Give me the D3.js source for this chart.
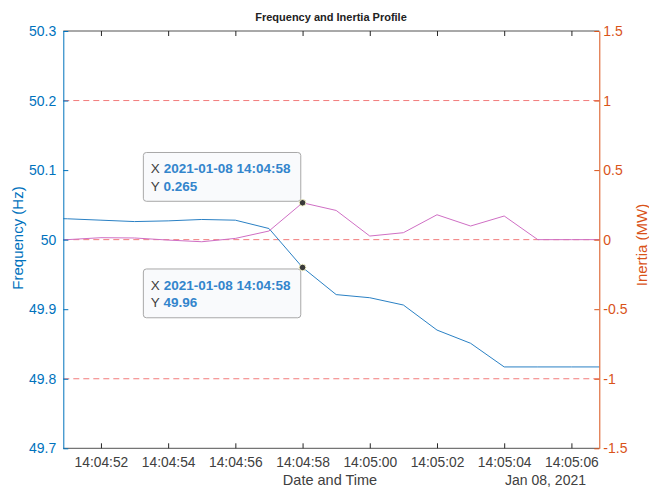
<!DOCTYPE html>
<html><head><meta charset="utf-8">
<script src="https://cdn.jsdelivr.net/npm/d3@7"></script>
<style>body{margin:0;background:#fff}svg{display:block;font-family:"Liberation Sans",Arial,Helvetica,sans-serif}</style>
</head><body><svg id="c" width="649" height="487"></svg>
<script>
const times = ["14:04:50","14:04:51","14:04:52","14:04:53","14:04:54","14:04:55","14:04:56","14:04:57","14:04:58","14:04:59","14:05:00","14:05:01","14:05:02","14:05:03","14:05:04","14:05:05","14:05:06","14:05:07"];
const frequency = [50.031,50.030,50.028,50.026,50.027,50.029,50.028,50.016,49.96,49.921,49.9165,49.906,49.870,49.851,49.817,49.817,49.817,49.817];
const inertia = [0.0,0.0,0.014,0.012,-0.003,-0.015,0.009,0.062,0.265,0.21,0.026,0.05,0.179,0.098,0.17,0.0,0.0,0.0];
const xDomain = ["14:04:50.88","14:05:06.83"];
const xTickLabels = ["14:04:52","14:04:54","14:04:56","14:04:58","14:05:00","14:05:02","14:05:04","14:05:06"];
const leftTicks = [49.7,49.8,49.9,50,50.1,50.2,50.3];
const rightTicks = [-1.5,-1,-0.5,0,0.5,1,1.5];
const refLines = [1,0,-1];
const tips = [
  {time:"14:04:58", label:"2021-01-08 14:04:58", value:"0.265", series:"inertia", side:"above"},
  {time:"14:04:58", label:"2021-01-08 14:04:58", value:"49.96", series:"frequency", side:"below"}
];
const dateStr = "2021-01-08";
const title = "Frequency and Inertia Profile";

const parse = s => new Date(dateStr + "T" + s);
const L = 63.3, R = 599.3, T = 31, B = 448.3;
const x = d3.scaleTime().domain(xDomain.map(parse)).range([L, R]);
const yl = d3.scaleLinear().domain([49.7, 50.3]).range([B, T]);
const yr = d3.scaleLinear().domain([-1.5, 1.5]).range([B, T]);
const blue = "#0072BD", orange = "#D95319";
const svg = d3.select("#c");

svg.append("defs").append("clipPath").attr("id","clip").append("rect")
  .attr("x",L).attr("y",T).attr("width",R-L).attr("height",B-T);

// reference dashed lines
svg.append("g").selectAll("line").data(refLines).join("line")
  .attr("x1",L).attr("x2",R).attr("y1",d=>yr(d)).attr("y2",d=>yr(d))
  .attr("stroke","#f27b7b").attr("stroke-width",1).attr("stroke-dasharray","6,4");

const g = svg.append("g").attr("clip-path","url(#clip)");
g.append("path").datum(times.map((t,i)=>[parse(t),frequency[i]]))
  .attr("fill","none").attr("stroke","#2a80c4").attr("stroke-width",1)
  .attr("d", d3.line().x(d=>x(d[0])).y(d=>yl(d[1])));
g.append("path").datum(times.map((t,i)=>[parse(t),inertia[i]]))
  .attr("fill","none").attr("stroke","#cf6fc4").attr("stroke-width",1)
  .attr("d", d3.line().x(d=>x(d[0])).y(d=>yr(d[1])));

// box borders
svg.append("line").attr("x1",L).attr("x2",R).attr("y1",T).attr("y2",T).attr("stroke","#262626").attr("stroke-width",0.8);
svg.append("line").attr("x1",L).attr("x2",R).attr("y1",B).attr("y2",B).attr("stroke","#262626").attr("stroke-width",0.8);

// x axes
const xt = xTickLabels.map(parse);
const fmt = d3.timeFormat("%H:%M:%S");
const xb = svg.append("g").attr("transform",`translate(0,${B})`)
  .call(d3.axisBottom(x).tickValues(xt).tickFormat(fmt).tickSizeInner(-5).tickSizeOuter(0).tickPadding(9));
xb.select(".domain").remove();
xb.selectAll("line").attr("stroke","#262626");
xb.selectAll("text").attr("fill","#404040").attr("font-size",13.8).attr("font-family","Liberation Sans, Arial, sans-serif");
const xtop = svg.append("g").attr("transform",`translate(0,${T})`)
  .call(d3.axisTop(x).tickValues(xt).tickFormat("").tickSizeInner(-5).tickSizeOuter(0));
xtop.select(".domain").remove();
xtop.selectAll("line").attr("stroke","#262626");

// left axis
const ga = svg.append("g").attr("transform",`translate(${L},0)`)
  .call(d3.axisLeft(yl).tickValues(leftTicks).tickFormat(d=>String(+d.toFixed(1))).tickSizeInner(-5).tickSizeOuter(0).tickPadding(7));
ga.select(".domain").attr("stroke",blue).attr("stroke-width",1);
ga.selectAll("line").attr("stroke",blue);
ga.selectAll("text").attr("fill",blue).attr("font-size",14).attr("font-family","Liberation Sans, Arial, sans-serif");

// right axis
const gr = svg.append("g").attr("transform",`translate(${R},0)`)
  .call(d3.axisRight(yr).tickValues(rightTicks).tickFormat(d=>String(d)).tickSizeInner(-5).tickSizeOuter(0).tickPadding(4));
gr.select(".domain").attr("stroke",orange).attr("stroke-width",1);
gr.selectAll("line").attr("stroke",orange);
gr.selectAll("text").attr("fill",orange).attr("font-size",14).attr("font-family","Liberation Sans, Arial, sans-serif");

// labels
svg.append("text").attr("x",331).attr("y",21).attr("text-anchor","middle")
  .attr("font-size",11).attr("font-weight","bold").attr("fill","#222").text(title);
svg.append("text").attr("x",330).attr("y",485).attr("text-anchor","middle")
  .attr("font-size",14.5).attr("fill","#404040").text("Date and Time");
svg.append("text").attr("x",586).attr("y",484.5).attr("text-anchor","end")
  .attr("font-size",14).attr("fill","#404040").text("Jan 08, 2021");
svg.append("text").attr("transform",`translate(23,238) rotate(-90)`).attr("text-anchor","middle")
  .attr("font-size",15).attr("fill",blue).text("Frequency (Hz)");
svg.append("text").attr("transform",`translate(646.5,245) rotate(-90)`).attr("text-anchor","middle")
  .attr("font-size",15).attr("fill",orange).text("Inertia (MW)");

// datatips
tips.forEach(tp=>{
  const px = x(parse(tp.time));
  const v = tp.series==="inertia" ? inertia[times.indexOf(tp.time)] : frequency[times.indexOf(tp.time)];
  const py = tp.series==="inertia" ? yr(v) : yl(v);
  const w = 157.4, h = 48.8;
  const bx = px - 1.8 - w;
  const by = tp.side==="above" ? py - 1.5 - h : py + 1.5;
  const tg = svg.append("g");
  tg.append("rect").attr("x",bx).attr("y",by).attr("width",w).attr("height",h).attr("rx",3)
    .attr("fill","#f9fafc").attr("fill-opacity",0.95).attr("stroke","#a8a8a8").attr("stroke-width",1);
  [["X",tp.label],["Y",tp.value]].forEach((r,i)=>{
    const t = tg.append("text").attr("x",bx+7.5).attr("y",by+21+i*17.4).attr("font-size",13.5);
    t.append("tspan").attr("fill","#404040").text(r[0]+" ");
    t.append("tspan").attr("fill","#3385cc").attr("font-weight","bold").text(r[1]);
  });
  svg.append("circle").attr("cx",px).attr("cy",py).attr("r",3.3)
    .attr("fill","#3a3a3a").attr("stroke","#f2f0c8").attr("stroke-width",1);
});
</script></body></html>
